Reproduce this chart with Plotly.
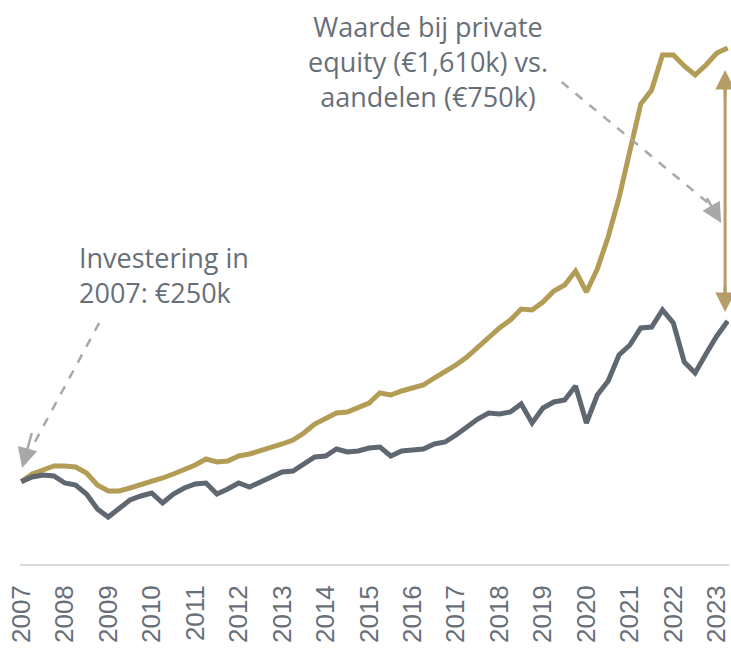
import plotly.graph_objects as go

# Quarterly dates 2007 Q1 .. 2023 Q2
quarters = [2007 + i * 0.25 for i in range(66)]

private_equity = [250, 273, 285, 297, 297, 294, 276, 240, 222, 222, 231, 240, 252, 261, 273, 285,
                  300, 318, 309, 312, 327, 333, 342, 351, 363, 375, 396, 423, 438, 456, 459, 474,
                  486, 516, 510, 522, 531, 540, 561, 579, 600, 624, 654, 681, 711, 735, 768, 765,
                  789, 822, 840, 882, 819, 888, 984, 1101, 1236, 1383, 1425, 1530, 1530, 1497, 1470,
                  1500, 1536, 1551]

aandelen = [250, 264, 270, 267, 246, 240, 213, 168, 144, 168, 195, 207, 216, 186, 213, 231,
            243, 246, 213, 228, 246, 234, 249, 261, 279, 282, 303, 324, 327, 348, 339, 342,
            351, 354, 327, 342, 345, 348, 363, 369, 390, 414, 438, 456, 453, 459, 483, 426,
            471, 489, 495, 537, 426, 510, 552, 630, 660, 711, 714, 765, 726, 609, 576, 633,
            687, 732]

tick_years = list(range(2007, 2024))
tick_labels = [str(y) for y in tick_years]

GOLD = "#B39C55"
GOLD_ARROW = "#B49D66"
GRAY_LINE = "#5F6771"
TEXT = "#676F79"
DASH = "#A8A8A8"
TEXT_FONT = "Open Sans"

fig = go.Figure()
fig.add_trace(go.Scatter(x=quarters, y=private_equity, mode="lines",
                         line=dict(color=GOLD, width=5), name="Private equity"))
fig.add_trace(go.Scatter(x=quarters, y=aandelen, mode="lines",
                         line=dict(color=GRAY_LINE, width=5), name="Aandelen"))

# dashed arrow lines
fig.add_shape(type="line", x0=2008.79, y0=726, x1=2007.15, y1=330,
              line=dict(color=DASH, width=2.5, dash="dash"))
fig.add_shape(type="line", x0=2019.43, y0=1449, x1=2022.95, y1=1070,
              line=dict(color=DASH, width=2.5, dash="dash"))

# arrow heads
fig.add_annotation(x=2007.02, y=291, ax=2007.25, ay=400, xref="x", yref="y",
                   axref="x", ayref="y", text="", showarrow=True,
                   arrowhead=2, arrowsize=1.6, arrowwidth=2.5, arrowcolor=DASH)
fig.add_annotation(x=2023.1, y=1026, ax=2022.75, ay=1105, xref="x", yref="y",
                   axref="x", ayref="y", text="", showarrow=True,
                   arrowhead=2, arrowsize=1.6, arrowwidth=2.5, arrowcolor=DASH)

# double-headed gold arrow: shaft + two heads
fig.add_shape(type="line", x0=2023.19, y0=1440, x1=2023.19, y1=800,
              line=dict(color=GOLD_ARROW, width=3))
fig.add_annotation(x=2023.19, y=1485, ax=2023.19, ay=1400, xref="x", yref="y",
                   axref="x", ayref="y", text="", showarrow=True,
                   arrowhead=2, arrowsize=1.3, arrowwidth=3, arrowcolor=GOLD_ARROW)
fig.add_annotation(x=2023.19, y=759, ax=2023.19, ay=840, xref="x", yref="y",
                   axref="x", ayref="y", text="", showarrow=True,
                   arrowhead=2, arrowsize=1.3, arrowwidth=3, arrowcolor=GOLD_ARROW)

# texts
fig.add_annotation(x=2008.27, y=984, xref="x", yref="y", xanchor="left", yanchor="top",
                   text="Investering in<br>2007: €250k", showarrow=False, align="left",
                   font=dict(family=TEXT_FONT, size=27, color=TEXT))
fig.add_annotation(x=2016.36, y=1.064, xref="x", yref="paper", xanchor="center", yanchor="top",
                   text="Waarde bij private<br>equity (€1,610k) vs.<br>aandelen (€750k)",
                   showarrow=False, align="center",
                   font=dict(family=TEXT_FONT, size=27, color=TEXT))

fig.update_layout(
    width=731, height=652,
    margin=dict(l=20, r=2, t=40, b=87, autoexpand=False),
    paper_bgcolor="white", plot_bgcolor="white",
    showlegend=False,
    xaxis=dict(range=[2006.97, 2023.28], tickvals=tick_years, ticktext=tick_labels,
               tickangle=-90, showgrid=False, zeroline=False, showline=False,
               ticks="", ticklabelstandoff=14, automargin=False, ticklabeloverflow="allow",
               tickfont=dict(family="Liberation Sans", size=26, color=TEXT)),
    yaxis=dict(range=[0, 1575], showgrid=False, zeroline=True, zerolinecolor="#D9D9D9",
               zerolinewidth=2, showticklabels=False, ticks="", showline=False,
               automargin=False),
)

fig.write_html("out.html", config={"displayModeBar": False},
               post_script="document.body.style.margin='0px';")
